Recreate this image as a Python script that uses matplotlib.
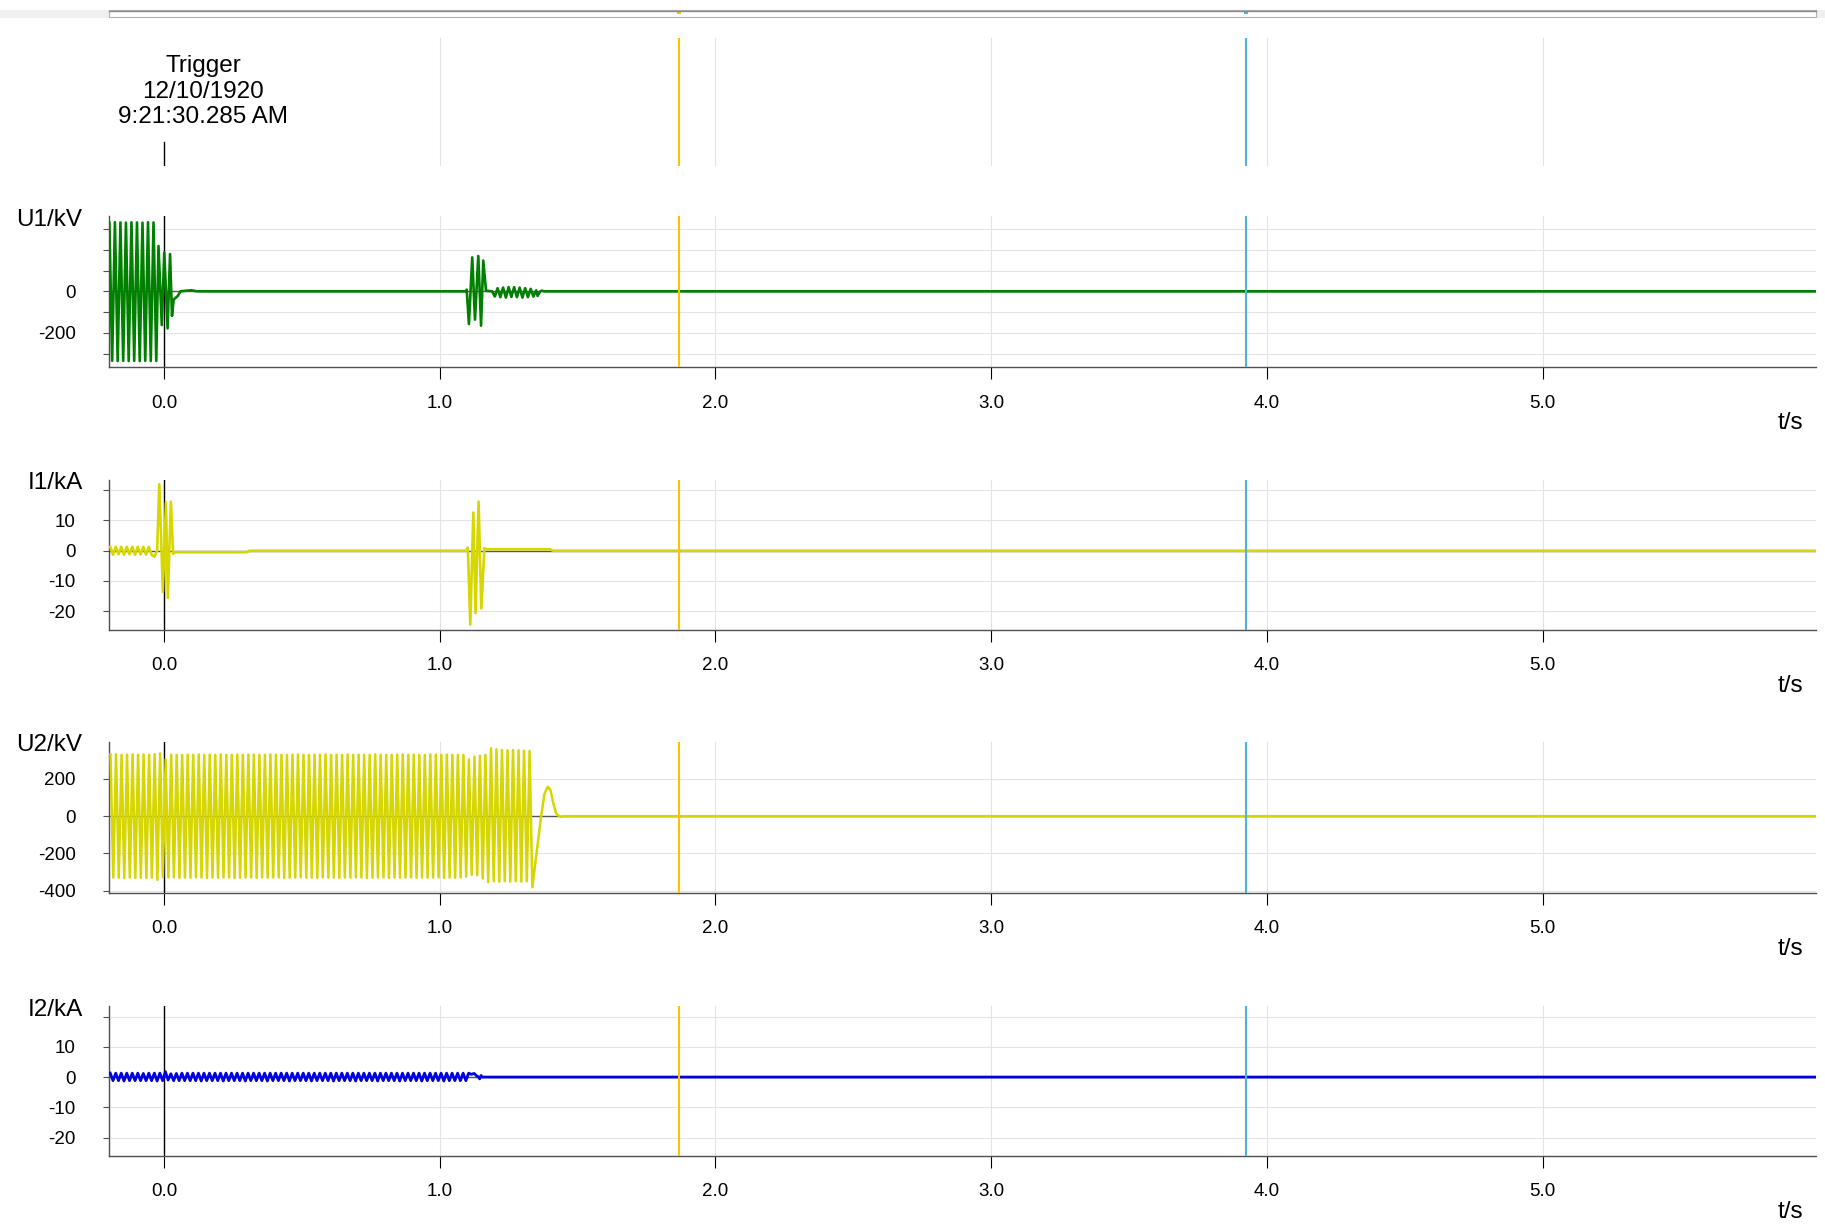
import numpy as np
import matplotlib.pyplot as plt
from matplotlib.patches import Rectangle
from matplotlib.lines import Line2D

plt.rcParams['font.family'] = ['Liberation Sans', 'DejaVu Sans']

# ---- data ----
x_ticks = [0, 1, 2, 3, 4, 5]
x_labels = ['0.0', '1.0', '2.0', '3.0', '4.0', '5.0']
cursor_a = 1.867
cursor_b = 3.926
trigger_text = 'Trigger\n12/10/1920\n9:21:30.285 AM'

# U1: 50 Hz extrema before the trip (every half period starting at -0.198 s)
u1_pre_start = -0.198
u1_pre = [330, -334, 332, -335, 331, -334, 330, -335, 332, -334,
          331, -335, 330, -334, 332, -335, 331, -334]
u1_t = [-0.020, -0.008, 0.001, 0.013, 0.022, 0.029, 0.035, 0.050, 0.060, 0.080,
        0.100, 0.120, 1.095, 1.098, 1.106, 1.118, 1.128, 1.140, 1.150, 1.158,
        1.168, 1.190, 1.200, 1.210, 1.220, 1.230, 1.240, 1.250, 1.260, 1.270,
        1.280, 1.290, 1.300, 1.310, 1.320, 1.330, 1.340, 1.350, 1.355, 1.365,
        1.370, 1.380, 6.000]
u1_v = [218, -162, 187, -178, 179, -118, -40, -22, 0, 3,
        5, 0, 0, 8, -157, 163, -136, 170, -165, 148,
        3, 0, -25, 15, -28, 18, -30, 20, -27, 20,
        -28, 18, -30, 15, -28, 12, -25, 5, -22, 0,
        3, 0, 0]

# I1
i1_pre_start = -0.195
i1_pre = [1.3, -1.3, 1.3, -1.2, 1.3, -1.3, 1.3, -1.2,
          1.3, -1.3, 1.3, -1.2, 1.3, -1.3, 1.3, -1.3]
i1_t = [-0.035, -0.025, -0.017, -0.004, 0.007, 0.014, 0.025, 0.033, 0.040, 0.300,
        0.310, 1.095, 1.102, 1.111, 1.122, 1.130, 1.141, 1.151, 1.162, 1.170,
        1.400, 1.410, 6.000]
i1_v = [-2.0, 0, 22, -13.6, 15.9, -15.6, 16.2, -1, -0.5, -0.5,
        0, 0, 1, -24.4, 12.6, -20.6, 16.2, -19.1, 0.8, 0.5,
        0.5, 0, 0]

# U2: 50 Hz extrema (every half period starting at -0.194 s)
u2_start = -0.194
u2_ext = [332, -330, 333, -331, 330, -333, 331, -330, 333, -332,
          330, -331, 332, -333, 330, -331, 333, -342, 338, -328,
          306, -330, 331, -329, 330, -332, 329, -330, 331, -331,
          330, -329, 332, -330, 329, -332, 331, -330, 330, -331,
          332, -329, 330, -330, 329, -332, 331, -331, 330, -329,
          332, -330, 331, -332, 329, -330, 330, -331, 332, -330,
          331, -329, 330, -332, 329, -331, 331, -330, 332, -329,
          330, -331, 329, -330, 331, -332, 330, -329, 332, -331,
          330, -330, 331, -332, 329, -330, 332, -331, 330, -329,
          331, -330, 329, -332, 330, -331, 332, -330, 331, -329,
          330, -332, 329, -330, 331, -331, 332, -330, 330, -329,
          331, -332, 330, -330, 329, -331, 332, -330, 331, -329,
          330, -332, 331, -330, 329, -331, 330, -330, 330, -325,
          305, -315, 320, -318, 325, -335, 330, -355, 365, -350,
          360, -352, 356, -350, 355, -352, 356, -350, 354, -352,
          352, -350, 350, -382]
u2_t = [1.368, 1.380, 1.392, 1.402, 1.412, 1.422, 1.433, 1.440, 1.450, 6.000]
u2_v = [0, 120, 158, 140, 70, 15, 0, -4, 0, 0]

# I2: 50 Hz extrema (every half period starting at -0.195 s)
i2_start = -0.195
i2_ext = [1.3, -1.2, 1.3, -1.2, 1.3, -1.3, 1.3, -1.2, 1.3, -1.2,
          1.3, -1.2, 1.2, -1.2, 1.3, -1.2, 1.3, -1.3, 1.3, -1.2,
          1.8, -1.0, 1.1, -1.2, 1.2, -1.2, 1.3, -1.2, 1.3, -1.2,
          1.3, -1.2, 1.3, -1.3, 1.3, -1.2, 1.3, -1.2, 1.3, -1.2,
          1.3, -1.3, 1.3, -1.2, 1.3, -1.2, 1.3, -1.2, 1.3, -1.3,
          1.3, -1.2, 1.3, -1.2, 1.3, -1.2, 1.3, -1.3, 1.3, -1.2,
          1.3, -1.2, 1.3, -1.2, 1.3, -1.3, 1.3, -1.2, 1.3, -1.2,
          1.3, -1.2, 1.3, -1.3, 1.3, -1.2, 1.3, -1.2, 1.3, -1.2,
          1.3, -1.3, 1.3, -1.2, 1.3, -1.2, 1.3, -1.2, 1.3, -1.3,
          1.3, -1.2, 1.3, -1.2, 1.3, -1.2, 1.3, -1.3, 1.3, -1.2,
          1.3, -1.2, 1.3, -1.2, 1.3, -1.3, 1.3, -1.2, 1.3, -1.2,
          1.3, -1.2, 1.3, -1.3, 1.3, -1.2, 1.3, -1.2, 1.3, -1.2,
          1.3, -1.3, 1.3, -1.2, 1.3, -1.2, 1.3, -1.2, 1.3, -1.2,
          1.3]
i2_t = [1.115, 1.125, 1.135, 1.140, 1.145, 1.150, 1.155, 6.000]
i2_v = [0.9, 1.2, 0.3, 0.1, -0.6, 0.5, 0, 0]


def half_period_times(start, n):
    return start + 0.01 * np.arange(n)


u1_time = np.concatenate([half_period_times(u1_pre_start, len(u1_pre)), u1_t])
u1_vals = np.concatenate([u1_pre, u1_v])
i1_time = np.concatenate([half_period_times(i1_pre_start, len(i1_pre)), i1_t])
i1_vals = np.concatenate([i1_pre, i1_v])
u2_time = np.concatenate([half_period_times(u2_start, len(u2_ext)), u2_t])
u2_vals = np.concatenate([u2_ext, u2_v])
i2_time = np.concatenate([half_period_times(i2_start, len(i2_ext)), i2_t])
i2_vals = np.concatenate([i2_ext, i2_v])

# ---- layout (pixels of the 1825x1226 screenshot) ----
W, H = 1825, 1226
LEFT, RIGHT = 109.4, 1816
XLIM = (-0.198, 5.992)
GRID = '#e4e4e4'
SPINE = '#505050'
ORANGE = '#ffc000'
CYAN = '#4ab4dc'

fig = plt.figure(figsize=(W / 100, H / 100), dpi=100)


def px_axes(top, bottom):
    return fig.add_axes([LEFT / W, 1 - bottom / H, (RIGHT - LEFT) / W, (bottom - top) / H])


# scrollbar strip on top
fig.add_artist(Rectangle((0, 1 - 17.5 / H), 1, 8 / H, transform=fig.transFigure,
                         facecolor='#f0f0f0', edgecolor='none'))
fig.add_artist(Rectangle((LEFT / W, 1 - 16.5 / H), (RIGHT - LEFT) / W, 6 / H,
                         transform=fig.transFigure, facecolor='white',
                         edgecolor='#b0b0b0', lw=0.8))
fig.add_artist(Line2D([LEFT / W, RIGHT / W], [1 - 11 / H, 1 - 11 / H],
                      transform=fig.transFigure, color='#8a8a8a', lw=1))
for cx, col in [(164.1 + cursor_a * 275.7, ORANGE), (164.1 + cursor_b * 275.7, CYAN)]:
    fig.add_artist(Rectangle(((cx - 2) / W, 1 - 14 / H), 4 / W, 3 / H,
                             transform=fig.transFigure, facecolor=col, edgecolor='none'))

# header panel with trigger info
hdr = px_axes(38.4, 166.4)
hdr.set_xlim(XLIM)
hdr.set_ylim(0, 1)
hdr.axis('off')
for xt in x_ticks[1:]:
    hdr.axvline(xt, color=GRID, lw=0.8)
hdr.axvline(0, ymin=0, ymax=0.19, color='black', lw=1)
hdr.axvline(cursor_a, color=ORANGE, lw=1.5)
hdr.axvline(cursor_b, color=CYAN, lw=1.5)
fig.text(203.5 / W, 1 - 91.5 / H, trigger_text, ha='center', va='center',
         fontsize=17.5, linespacing=1.22)

panels = [
    ('U1/kV', 216.0, 367.3, (-365, 362), [-300, -200, -100, 0, 100, 200, 300],
     ['', '-200', '', '0', '', '', ''], u1_time, u1_vals, '#008000', 1.9),
    ('I1/kA', 479.6, 630.0, (-26.2, 23.5), [-20, -10, 0, 10, 20],
     ['-20', '-10', '0', '10', ''], i1_time, i1_vals, '#d6d600', 1.9),
    ('U2/kV', 741.6, 893.0, (-413, 401), [-400, -200, 0, 200],
     ['-400', '-200', '0', '200'], u2_time, u2_vals, '#d6d600', 1.8),
    ('I2/kA', 1006.0, 1156.0, (-26.1, 23.5), [-20, -10, 0, 10, 20],
     ['-20', '-10', '0', '10', ''], i2_time, i2_vals, '#0000e0', 2.0),
]

for name, top, bottom, ylim, yt, yl, t, v, color, lw in panels:
    ax = px_axes(top, bottom)
    ax.set_xlim(XLIM)
    ax.set_ylim(ylim)
    ax.set_xticks(x_ticks)
    ax.set_xticklabels(x_labels)
    ax.set_yticks(yt)
    ax.set_yticklabels(yl)
    ax.grid(True, color=GRID, lw=0.8)
    ax.set_axisbelow(True)
    for s in ['top', 'right']:
        ax.spines[s].set_visible(False)
    for s in ['left', 'bottom']:
        ax.spines[s].set_color(SPINE)
        ax.spines[s].set_linewidth(1)
    ax.tick_params(axis='x', direction='out', length=8.6, width=0.8, color='black',
                   pad=11, labelsize=13.5)
    ax.tick_params(axis='y', direction='out', length=4.3, width=0.8, color=SPINE,
                   pad=20, labelsize=13.5)
    ax.axhline(0, color='#555555', lw=1, zorder=1.5)
    ax.axvline(0, color='black', lw=1, zorder=1.6)
    ax.plot(t, v, color=color, lw=lw, zorder=3)
    ax.axvline(cursor_a, color=ORANGE, lw=1.5, zorder=4)
    ax.axvline(cursor_b, color=CYAN, lw=1.5, zorder=4)
    fig.text(82.6 / W, 1 - (top + 3.5) / H, name, ha='right', va='center', fontsize=17.5)
    fig.text(1803 / W, 1 - (bottom + 56) / H, 't/s', ha='right', va='center', fontsize=17.5)

fig.savefig('out.png', dpi=100)
